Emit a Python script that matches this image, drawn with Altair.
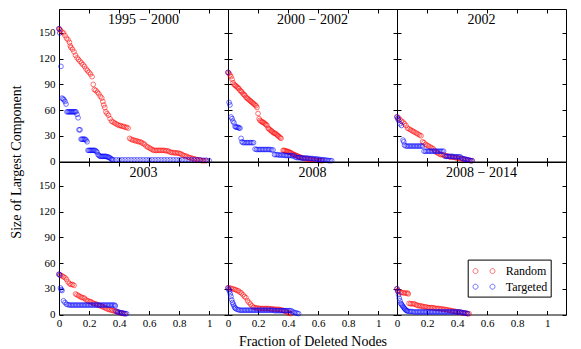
import altair as alt
import pandas as pd

TITLES = ["1995 \u2212 2000", "2000 \u2212 2002", "2002", "2003", "2008", "2008 \u2212 2014"]
SERIES = ["Random", "Targeted"]
COLORS = ["#ff0000", "#0000ff"]
X_TICKS = [0, 0.2, 0.4, 0.6, 0.8, 1]
Y_TICKS = [0, 30, 60, 90, 120, 150]
X_DOMAIN = [0, 1.125]
Y_DOMAIN = [0, 178]
X_TITLE = "Fraction of Deleted Nodes"
Y_TITLE = "Size of Largest Component"

# ---- panel 1: 1995-2000 ----
R1 = [(0, 155), (0.005, 154), (0.01, 153), (0.02, 151), (0.03, 150), (0.04, 147), (0.05, 144), (0.06, 142),
      (0.07, 139), (0.075, 135), (0.08, 133), (0.09, 131), (0.1, 128), (0.11, 124), (0.12, 121), (0.13, 119),
      (0.14, 117), (0.15, 115), (0.16, 113), (0.17, 111), (0.18, 108), (0.19, 106), (0.2, 104), (0.21, 102),
      (0.22, 99), (0.228, 90), (0.235, 84), (0.245, 83), (0.255, 81), (0.265, 79), (0.275, 76), (0.285, 74),
      (0.292, 70), (0.298, 66), (0.305, 63), (0.312, 58), (0.32, 56), (0.33, 54), (0.34, 50), (0.35, 47),
      (0.36, 46), (0.37, 45), (0.38, 44), (0.39, 43), (0.4, 42), (0.41, 42), (0.42, 41), (0.43, 41),
      (0.44, 40), (0.45, 40), (0.46, 39), (0.47, 27), (0.48, 26), (0.49, 25), (0.5, 25), (0.51, 24),
      (0.52, 24), (0.53, 23), (0.54, 23), (0.55, 22), (0.56, 21), (0.57, 20), (0.58, 18), (0.59, 17),
      (0.6, 16), (0.61, 15), (0.62, 14), (0.63, 13), (0.64, 13), (0.65, 13), (0.66, 13), (0.67, 13),
      (0.68, 13), (0.69, 13), (0.7, 13), (0.71, 12.5), (0.72, 12.5), (0.73, 12), (0.74, 11), (0.75, 10.5),
      (0.76, 10.5), (0.77, 10), (0.78, 10), (0.79, 10), (0.8, 9.5), (0.81, 9), (0.82, 8), (0.83, 7),
      (0.84, 6.5), (0.85, 6), (0.86, 5), (0.87, 4.5), (0.88, 4), (0.89, 3.5), (0.9, 3), (0.91, 2.5),
      (0.92, 2), (0.93, 2), (0.94, 1.5), (0.95, 1), (0.96, 1), (0.97, 1), (0.98, 1)]
T1 = [(0, 155), (0.005, 150), (0.013, 111), (0.02, 74), (0.027, 73), (0.033, 72), (0.04, 70), (0.047, 67),
      (0.053, 58), (0.06, 58), (0.067, 58), (0.073, 58), (0.08, 58), (0.087, 58), (0.093, 58), (0.1, 58),
      (0.107, 58), (0.113, 58), (0.12, 55), (0.127, 51), (0.133, 37), (0.14, 37), (0.147, 26), (0.153, 26),
      (0.16, 26), (0.167, 26), (0.173, 26), (0.18, 25), (0.187, 23), (0.193, 13), (0.2, 13), (0.207, 13),
      (0.213, 13), (0.22, 13), (0.227, 13), (0.233, 13), (0.24, 13), (0.247, 12), (0.253, 11), (0.26, 8),
      (0.267, 7), (0.273, 6), (0.28, 6), (0.287, 6), (0.293, 6), (0.3, 6), (0.307, 6), (0.313, 6),
      (0.32, 5.5), (0.327, 5), (0.333, 5), (0.34, 4), (0.347, 3), (0.353, 2.5), (0.36, 2), (0.38, 2),
      (0.4, 2), (0.42, 2), (0.44, 2), (0.46, 2), (0.48, 2), (0.5, 2), (0.52, 2), (0.54, 2), (0.56, 2),
      (0.58, 2), (0.6, 2), (0.62, 2), (0.64, 2), (0.66, 2), (0.68, 2), (0.7, 2), (0.72, 2), (0.74, 2),
      (0.76, 2), (0.78, 2), (0.8, 2), (0.82, 2), (0.84, 2), (0.86, 2), (0.88, 2), (0.9, 2), (0.92, 2),
      (0.94, 2), (0.96, 1.5), (0.98, 1.5), (1.0, 1)]

# ---- panel 2: 2000-2002 ----
R2 = [(0, 104), (0.007, 103), (0.013, 101), (0.02, 99), (0.027, 96), (0.033, 92), (0.04, 90), (0.047, 89),
      (0.053, 88), (0.06, 87), (0.067, 86), (0.073, 85), (0.08, 83), (0.087, 82), (0.093, 81), (0.1, 79),
      (0.107, 78), (0.113, 77), (0.12, 75), (0.127, 74), (0.133, 73), (0.14, 72), (0.147, 71), (0.153, 70),
      (0.16, 69), (0.167, 68), (0.173, 67), (0.18, 66), (0.187, 65), (0.193, 63), (0.2, 56), (0.207, 50),
      (0.213, 48), (0.22, 47), (0.227, 46), (0.233, 46), (0.24, 45), (0.247, 44), (0.253, 43), (0.26, 42),
      (0.267, 39), (0.273, 38), (0.28, 37), (0.287, 36), (0.293, 35), (0.3, 34), (0.307, 33), (0.313, 33),
      (0.32, 32), (0.327, 31), (0.333, 30), (0.34, 29), (0.347, 28), (0.353, 27), (0.367, 13), (0.373, 13),
      (0.38, 12.5), (0.387, 12), (0.393, 12), (0.4, 11.5), (0.407, 11), (0.413, 10.5), (0.42, 10),
      (0.427, 9), (0.433, 8.5), (0.44, 8), (0.447, 7.5), (0.453, 7), (0.46, 6.5), (0.467, 6), (0.473, 5.5),
      (0.48, 5), (0.49, 4.5), (0.5, 4), (0.51, 3.5), (0.52, 3), (0.53, 3), (0.54, 2.5), (0.55, 2.5),
      (0.56, 2), (0.57, 2), (0.58, 1.5), (0.59, 1.5), (0.6, 1), (0.61, 1), (0.62, 1), (0.63, 1)]
T2 = [(0, 104), (0.007, 69), (0.013, 66), (0.02, 52), (0.027, 50), (0.033, 47), (0.04, 45), (0.047, 41),
      (0.053, 40), (0.06, 40), (0.067, 40), (0.073, 39), (0.08, 39), (0.087, 27), (0.093, 23), (0.1, 22),
      (0.11, 22), (0.12, 22), (0.13, 22), (0.14, 22), (0.15, 22), (0.16, 22), (0.17, 22), (0.18, 14.5),
      (0.19, 14), (0.2, 14), (0.21, 14), (0.22, 14), (0.23, 14), (0.24, 14), (0.25, 14), (0.26, 14),
      (0.27, 14), (0.28, 14), (0.29, 13.5), (0.3, 13.5), (0.31, 8), (0.32, 8), (0.33, 8), (0.34, 7.5),
      (0.35, 7.5), (0.36, 7.5), (0.37, 7.5), (0.38, 7), (0.39, 7), (0.4, 7), (0.41, 7), (0.42, 7),
      (0.43, 6.5), (0.44, 6.5), (0.45, 5), (0.46, 4.5), (0.47, 4.5), (0.48, 4.5), (0.49, 4), (0.5, 4),
      (0.51, 4), (0.52, 4), (0.53, 4), (0.54, 3.5), (0.55, 3.5), (0.56, 3.5), (0.57, 3), (0.58, 3),
      (0.59, 3), (0.6, 2.5), (0.61, 2.5), (0.62, 2), (0.63, 2), (0.64, 2), (0.65, 1.5), (0.66, 1.5),
      (0.67, 1), (0.68, 1), (0.69, 1)]

# ---- panel 3: 2002 ----
R3 = [(0, 52), (0.01, 51), (0.02, 49), (0.03, 47), (0.04, 46), (0.05, 44), (0.06, 42), (0.07, 39),
      (0.08, 38), (0.09, 37), (0.1, 36), (0.11, 35), (0.12, 34), (0.13, 33), (0.14, 32), (0.15, 31),
      (0.16, 30), (0.17, 23), (0.18, 22), (0.19, 20), (0.2, 19), (0.21, 18), (0.22, 17), (0.23, 16),
      (0.24, 15), (0.25, 13), (0.26, 11), (0.27, 10), (0.28, 9), (0.29, 8), (0.3, 8), (0.31, 7.5),
      (0.32, 7), (0.33, 6.5), (0.34, 6), (0.35, 5.5), (0.36, 5), (0.37, 5), (0.38, 5), (0.39, 4.5),
      (0.4, 4), (0.41, 4), (0.42, 3.5), (0.43, 3), (0.44, 3), (0.45, 2.5), (0.46, 2), (0.47, 2),
      (0.48, 1.5), (0.49, 1), (0.5, 1)]
T3 = [(0, 52), (0.005, 50), (0.01, 48), (0.02, 44), (0.03, 42), (0.04, 25), (0.045, 23), (0.05, 19),
      (0.06, 18), (0.07, 18), (0.08, 18), (0.09, 18), (0.1, 18), (0.11, 18), (0.12, 18), (0.13, 18),
      (0.14, 18), (0.15, 18), (0.16, 18), (0.17, 18), (0.18, 12), (0.19, 12), (0.2, 12), (0.21, 12),
      (0.22, 12), (0.23, 12), (0.24, 12), (0.25, 12), (0.26, 12), (0.27, 12), (0.28, 12), (0.29, 12),
      (0.3, 12), (0.31, 12), (0.32, 6), (0.33, 6), (0.34, 6), (0.35, 6), (0.36, 6), (0.37, 6),
      (0.38, 5.5), (0.39, 5.5), (0.4, 5.5), (0.41, 5.5), (0.42, 5.5), (0.43, 4), (0.44, 3), (0.45, 3),
      (0.46, 2.5), (0.47, 2), (0.48, 1.5), (0.49, 1), (0.5, 1)]

# ---- panel 4: 2003 ----
R4 = [(0, 47), (0.01, 46), (0.02, 45), (0.03, 44), (0.04, 43), (0.05, 41), (0.06, 38), (0.07, 36),
      (0.08, 35), (0.09, 35), (0.1, 34), (0.11, 24), (0.12, 23), (0.13, 22), (0.14, 21), (0.15, 20),
      (0.16, 19.5), (0.17, 19), (0.18, 17), (0.19, 16), (0.2, 15.5), (0.21, 15), (0.22, 14), (0.23, 13),
      (0.24, 12.5), (0.25, 12), (0.26, 11), (0.27, 10.5), (0.28, 10), (0.29, 9), (0.3, 8.5), (0.31, 7.5),
      (0.32, 6.5), (0.33, 6), (0.34, 5.5), (0.35, 5), (0.36, 4.5), (0.37, 4), (0.38, 3.5), (0.39, 3),
      (0.4, 2.5), (0.41, 2), (0.42, 1.5), (0.43, 1), (0.44, 1)]
T4 = [(0, 47), (0.005, 46), (0.01, 31), (0.015, 29), (0.02, 28), (0.03, 16), (0.04, 14), (0.05, 12),
      (0.06, 11.5), (0.07, 11), (0.08, 11), (0.09, 11), (0.1, 11), (0.11, 11), (0.12, 11), (0.13, 11),
      (0.14, 11), (0.15, 11), (0.16, 11), (0.17, 11), (0.18, 11), (0.19, 11), (0.2, 11), (0.21, 11),
      (0.22, 11), (0.23, 11), (0.24, 11), (0.25, 11), (0.26, 11), (0.27, 11), (0.28, 11), (0.29, 11),
      (0.3, 11), (0.31, 11), (0.32, 11), (0.33, 11), (0.34, 11), (0.35, 11), (0.36, 11), (0.37, 11),
      (0.375, 10), (0.38, 4), (0.39, 3), (0.4, 2.5), (0.41, 2), (0.42, 2), (0.43, 1.5), (0.44, 1),
      (0.45, 1)]

# ---- panel 5: 2008 ----
R5 = [(0, 31), (0.01, 31), (0.02, 30.5), (0.03, 30), (0.04, 29.5), (0.05, 29), (0.06, 28), (0.07, 27.5),
      (0.08, 26), (0.09, 25), (0.1, 23), (0.11, 21), (0.12, 19.5), (0.13, 16), (0.14, 14), (0.15, 12),
      (0.16, 10), (0.17, 8.5), (0.18, 8), (0.19, 7.5), (0.2, 7.5), (0.21, 7), (0.22, 7), (0.23, 7),
      (0.24, 7), (0.25, 7), (0.26, 7), (0.27, 7), (0.28, 6.5), (0.29, 6.5), (0.3, 6.5), (0.31, 6),
      (0.32, 6), (0.33, 6), (0.34, 6), (0.35, 5.5), (0.36, 5), (0.37, 4.5), (0.38, 4), (0.39, 3),
      (0.4, 2), (0.41, 1.5), (0.42, 1)]
T5 = [(0, 31), (0.005, 29), (0.01, 27), (0.015, 24), (0.02, 21), (0.025, 17), (0.03, 14), (0.035, 12),
      (0.04, 10), (0.045, 8), (0.05, 7), (0.06, 6), (0.07, 5.5), (0.08, 5), (0.09, 5), (0.1, 5),
      (0.11, 5), (0.12, 5), (0.13, 5), (0.14, 5), (0.15, 5), (0.16, 5), (0.17, 5), (0.18, 5), (0.19, 5),
      (0.2, 5), (0.21, 5), (0.22, 5), (0.23, 5), (0.24, 5), (0.25, 5), (0.26, 5), (0.27, 5), (0.28, 5),
      (0.29, 5), (0.3, 5), (0.31, 4.5), (0.32, 4.5), (0.33, 4.5), (0.34, 4.5), (0.35, 4.5), (0.36, 4.5),
      (0.37, 4.5), (0.38, 4.5), (0.39, 4.5), (0.4, 4.5), (0.41, 4.5), (0.42, 4.5), (0.43, 3), (0.44, 2.5),
      (0.45, 2), (0.46, 1.5), (0.47, 1)]

# ---- panel 6: 2008-2014 ----
R6 = [(0, 30), (0.005, 28), (0.01, 27), (0.02, 26), (0.03, 25.5), (0.04, 25.5), (0.05, 25), (0.06, 25),
      (0.07, 25), (0.075, 24), (0.08, 13), (0.09, 12.5), (0.1, 12.5), (0.11, 12.5), (0.12, 12), (0.13, 11),
      (0.14, 10.5), (0.15, 10), (0.16, 10), (0.17, 9.5), (0.18, 9), (0.19, 9), (0.2, 8.5), (0.21, 8),
      (0.22, 8), (0.23, 8), (0.24, 8), (0.25, 7.5), (0.26, 7), (0.27, 7), (0.28, 7), (0.29, 6.5),
      (0.3, 6.5), (0.31, 6), (0.32, 6), (0.33, 5.5), (0.34, 5), (0.35, 5), (0.36, 4.5), (0.37, 4),
      (0.38, 4), (0.39, 3.5), (0.4, 3), (0.41, 3), (0.42, 2.5), (0.43, 2), (0.44, 2), (0.45, 1.5),
      (0.46, 1.5), (0.47, 1), (0.48, 1)]
T6 = [(0, 30), (0.005, 27), (0.01, 23), (0.015, 19), (0.02, 16), (0.025, 13), (0.03, 12), (0.035, 10.5),
      (0.04, 9.5), (0.045, 8), (0.05, 7), (0.055, 6), (0.06, 5), (0.065, 4.5), (0.07, 4), (0.08, 3.5),
      (0.09, 3.5), (0.1, 3.5), (0.11, 3), (0.12, 3), (0.13, 3), (0.14, 3), (0.15, 3), (0.16, 3),
      (0.17, 3), (0.18, 3), (0.19, 3), (0.2, 3), (0.21, 3), (0.22, 3), (0.23, 3), (0.24, 3), (0.25, 3),
      (0.26, 3), (0.27, 3), (0.28, 3), (0.29, 3), (0.3, 3), (0.31, 3), (0.32, 3), (0.33, 3), (0.34, 3),
      (0.35, 3), (0.36, 3), (0.37, 3), (0.38, 3), (0.39, 3), (0.4, 3), (0.41, 3), (0.42, 3), (0.43, 2.5),
      (0.44, 2), (0.45, 2), (0.46, 1.5), (0.47, 1)]

PANELS = [(R1, T1), (R2, T2), (R3, T3), (R4, T4), (R5, T5), (R6, T6)]

FONT = "Liberation Serif"
W, H = 169, 152.5
xs = alt.Scale(domain=X_DOMAIN, nice=False, zero=False)
ys = alt.Scale(domain=Y_DOMAIN, nice=False, zero=False)
cs = alt.Scale(domain=SERIES, range=COLORS)
# legend symbol: two open circles side by side (matplotlib numpoints=2 look)
TWO_CIRCLES = ("M-0.77,0 A0.31,0.31 0 1,0 -0.15,0 A0.31,0.31 0 1,0 -0.77,0 "
               "M1.35,0 A0.31,0.31 0 1,0 1.97,0 A0.31,0.31 0 1,0 1.35,0")

tick_df = pd.DataFrame({"x": X_TICKS, "y": Y_TICKS})


def tick_axis(orient, values):
    return alt.Axis(orient=orient, values=values, labels=False, domain=False, grid=False,
                    ticks=True, tickSize=4, offset=-4, title=None, tickColor="black", tickWidth=1)


def panel(i, rand, targ):
    row, col = divmod(i, 3)
    rows = [{"x": x, "y": y, "series": "Random"} for x, y in rand] + \
           [{"x": x, "y": y, "series": "Targeted"} for x, y in targ]
    df = pd.DataFrame(rows)

    if row == 1:
        kw = dict(orient="bottom", values=X_TICKS, format="~g", ticks=False, domain=False,
                  tickSize=0, labelPadding=3, labelFlush=False, labelOverlap=False, grid=False)
        if i == 4:
            kw.update(title=X_TITLE, titleX=W / 2, titleY=31, titleAlign="center",
                      titleBaseline="alphabetic", titleAngle=0)
        else:
            kw.update(title=None)
        xax = alt.Axis(**kw)
    else:
        xax = None
    if col == 0:
        kw = dict(orient="left", values=Y_TICKS, ticks=False, domain=False, tickSize=0,
                  labelPadding=4, labelOverlap=False, grid=False)
        if i == 0:
            kw.update(title=Y_TITLE, titleX=-39, titleY=H, titleAngle=270, titleAlign="center",
                      titleBaseline="alphabetic")
        else:
            kw.update(title=None)
        yax = alt.Axis(**kw)
    else:
        yax = None

    if i == 5:
        legend = alt.Legend(title=None, orient="none", legendX=70.7, legendY=97.6,
                            symbolType=TWO_CIRCLES, symbolSize=256, symbolStrokeWidth=0.8,
                            labelFont=FONT, labelFontSize=12, labelColor="black", labelOffset=18,
                            padding=3, rowPadding=0.6, strokeColor="black", fillColor="white",
                            cornerRadius=0)
    else:
        legend = None

    pts = alt.Chart(df).mark_point(filled=False, shape="circle", size=22, strokeWidth=0.8,
                                   opacity=0.7).encode(
        x=alt.X("x:Q", scale=xs, axis=xax),
        y=alt.Y("y:Q", scale=ys, axis=yax),
        color=alt.Color("series:N", scale=cs, legend=legend),
        order=alt.Order("series:N"),
    )
    tk_a = alt.Chart(tick_df).mark_point(opacity=0).encode(
        x=alt.X("x:Q", scale=xs, axis=tick_axis("bottom", X_TICKS)),
        y=alt.Y("y:Q", scale=ys, axis=tick_axis("left", Y_TICKS)),
    )
    tk_b = alt.Chart(tick_df).mark_point(opacity=0).encode(
        x=alt.X("x:Q", scale=xs, axis=tick_axis("top", X_TICKS)),
        y=alt.Y("y:Q", scale=ys, axis=tick_axis("right", Y_TICKS)),
    )
    txt = alt.Chart(pd.DataFrame({"t": [TITLES[i]]})).mark_text(
        font=FONT, fontSize=14, align="center", baseline="alphabetic", color="black"
    ).encode(text="t:N", x=alt.value(W / 2), y=alt.value(14.5))

    return alt.layer(pts, tk_a, tk_b, txt).resolve_axis(
        x="independent", y="independent").properties(width=W, height=H)


panels = [panel(i, r, t) for i, (r, t) in enumerate(PANELS)]

chart = alt.concat(*panels, columns=3, spacing=0, bounds="flush").resolve_legend(
    color="independent"
).properties(
    padding={"left": 0, "top": 0, "right": 5, "bottom": 0}
).configure_view(
    stroke="black", strokeWidth=1
).configure_axis(
    labelFont=FONT, titleFont=FONT, labelFontSize=11, titleFontSize=14,
    labelColor="black", titleColor="black", titleFontWeight="normal"
)

chart.save("out.html", embed_options={"renderer": "svg", "actions": False})
